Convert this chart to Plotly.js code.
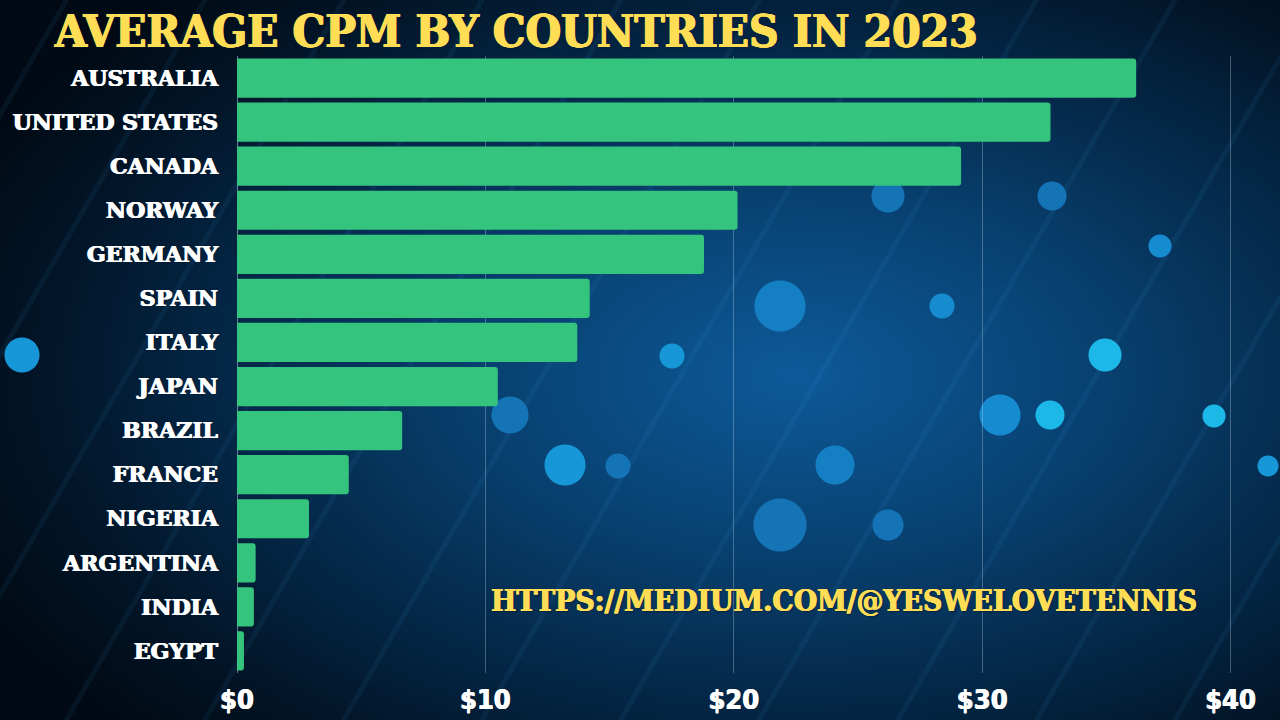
<!DOCTYPE html>
<html>
<head>
<meta charset="utf-8">
<script src="https://cdn.plot.ly/plotly-3.0.1.min.js"></script>
<style>
html,body{margin:0;padding:0;width:1280px;height:720px;overflow:hidden;}
body{
background:
 radial-gradient(circle at 780px 306px, #157fc4 0 25px, transparent 26px),
 radial-gradient(circle at 1000px 415px, #168bd0 0 20px, transparent 21px),
 radial-gradient(circle at 565px 465px, #1796d8 0 20px, transparent 21px),
 radial-gradient(circle at 835px 465px, #157fc4 0 19px, transparent 20px),
 radial-gradient(circle at 780px 525px, #1474b6 0 26px, transparent 27px),
 radial-gradient(circle at 510px 415px, #1474b6 0 18px, transparent 19px),
 radial-gradient(circle at 1105px 355px, #1cb8e8 0 16px, transparent 17px),
 radial-gradient(circle at 1050px 415px, #1cb8e8 0 14px, transparent 15px),
 radial-gradient(circle at 22px 355px, #1796d8 0 17px, transparent 18px),
 radial-gradient(circle at 888px 196px, #1474b6 0 16px, transparent 17px),
 radial-gradient(circle at 1052px 196px, #1474b6 0 14px, transparent 15px),
 radial-gradient(circle at 1160px 246px, #168bd0 0 11px, transparent 12px),
 radial-gradient(circle at 1214px 416px, #1cb8e8 0 11px, transparent 12px),
 radial-gradient(circle at 1268px 466px, #1796d8 0 10px, transparent 11px),
 radial-gradient(circle at 888px 525px, #1474b6 0 15px, transparent 16px),
 radial-gradient(circle at 942px 306px, #168bd0 0 12px, transparent 13px),
 radial-gradient(circle at 672px 356px, #1796d8 0 12px, transparent 13px),
 radial-gradient(circle at 618px 466px, #1474b6 0 12px, transparent 13px),
 repeating-linear-gradient(120deg, rgba(40,150,230,0) 0 55px, rgba(60,170,240,0.07) 55px 60px, rgba(40,150,230,0) 60px 120px),
 radial-gradient(ellipse 900px 520px at 62% 52%, #0d5a9a 0%, #08406f 35%, #042848 62%, #021426 85%, #010a14 100%);
}
#chart{width:1280px;height:720px;}
</style>
</head>
<body>
<div id="chart"></div>
<script>
const countries = ["AUSTRALIA","UNITED STATES","CANADA","NORWAY","GERMANY","SPAIN","ITALY","JAPAN","BRAZIL","FRANCE","NIGERIA","ARGENTINA","INDIA","EGYPT"];
const cpm = [36.2, 32.75, 29.15, 20.15, 18.8, 14.2, 13.7, 10.5, 6.65, 4.5, 2.9, 0.75, 0.68, 0.28];
const tickVals = [0, 10, 20, 30, 40];
const tickText = ["$0", "$10", "$20", "$30", "$40"];
const chartTitle = "AVERAGE CPM BY COUNTRIES IN 2023";
const watermark = "HTTPS://MEDIUM.COM/@YESWELOVETENNIS";

const trace = {
  type: "bar",
  orientation: "h",
  x: cpm,
  y: countries,
  marker: {color: "#34C47E", cornerradius: 3, line: {width: 0}},
  hoverinfo: "x+y"
};

const slab = "'DejaVu Serif Condensed', 'DejaVu Serif', serif";
const yellowThick = "0.8px 0 0 #FFDD55, -0.8px 0 0 #FFDD55, 0 0.6px 0 #FFDD55, 0 0 3px #05213d, 0 0 2px #05213d";

const layout = {
  width: 1280, height: 720,
  paper_bgcolor: "rgba(0,0,0,0)",
  plot_bgcolor: "rgba(0,0,0,0)",
  margin: {l: 237, r: 37, t: 56, b: 47},
  bargap: 0.11,
  showlegend: false,
  title: {
    text: chartTitle,
    xref: "container", x: 0.043, xanchor: "left",
    yref: "container", y: 0.957, yanchor: "middle",
    font: {family: slab, size: 45.5, weight: 700, color: "#FFDD55", shadow: yellowThick}
  },
  xaxis: {
    range: [0, 40.5],
    tickvals: tickVals,
    ticktext: tickText,
    showgrid: true,
    gridcolor: "rgba(190,205,220,0.35)",
    gridwidth: 1,
    zeroline: true,
    zerolinecolor: "rgba(190,205,220,0.55)",
    zerolinewidth: 1,
    showline: false,
    ticks: "",
    ticklabelstandoff: 8,
    tickfont: {family: "'DejaVu Sans Condensed', 'DejaVu Sans', sans-serif", size: 27, weight: 700, color: "#FFFFFF",
      shadow: "0.5px 0 0 #FFFFFF, -0.5px 0 0 #FFFFFF"},
    fixedrange: true
  },
  yaxis: {
    autorange: "reversed",
    showgrid: false,
    zeroline: false,
    showline: false,
    ticks: "",
    ticklabelstandoff: 18,
    tickfont: {family: "'DejaVu Serif', serif", size: 22, weight: 700, color: "#FFFFFF",
      shadow: "0.6px 0 0 #FFFFFF, -0.6px 0 0 #FFFFFF, 0 0 2px #05213d"},
    fixedrange: true
  },
  annotations: [{
    text: watermark,
    xref: "paper", yref: "paper",
    x: 0.603, y: 0.118, xanchor: "center", yanchor: "middle",
    showarrow: false,
    font: {family: slab, size: 29.8, weight: 700, color: "#FFDD55",
      shadow: "0.6px 0 0 #FFDD55, -0.6px 0 0 #FFDD55, 1px 1px 2px #05213d"}
  }]
};

Plotly.newPlot("chart", [trace], layout, {displayModeBar: false, staticPlot: true});
</script>
</body>
</html>
